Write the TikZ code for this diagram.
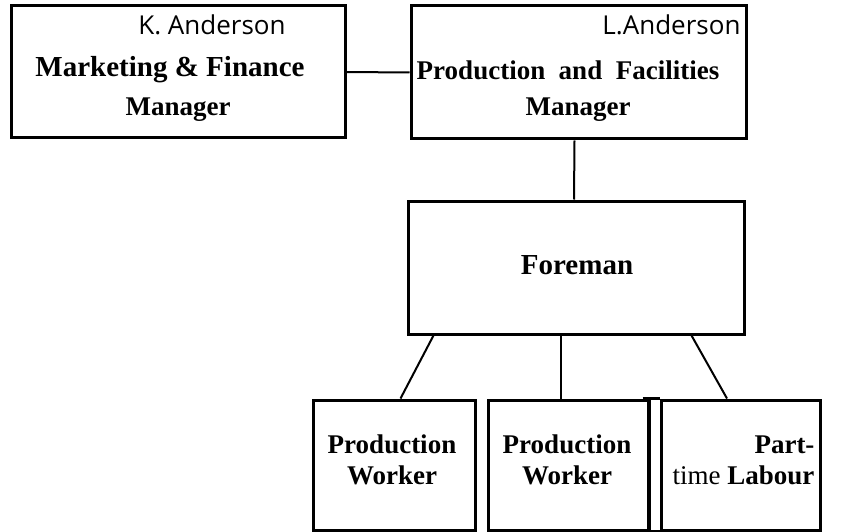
\documentclass[tikz,border=0pt]{standalone}
\usepackage{fontspec}
\setmainfont{Liberation Serif}
\setsansfont{Open Sans}

\begin{document}
\begin{tikzpicture}[x=1pt,y=-1pt,
    box/.style={draw, line width=3pt, rectangle, inner sep=0pt},
    link/.style={line width=2pt},
    roletext/.style={font=\fontsize{27}{31}\selectfont\bfseries},
    persontext/.style={font=\fontsize{26}{30}\selectfont\sffamily}]
    \useasboundingbox (0,0) rectangle (846,532);

    % Managers
    \node[box, minimum width=334pt, minimum height=132pt] (ka) at (178,72) {};
    \node[persontext] (kaname) at (212,25) {K. Anderson};
    \node[roletext, font=\fontsize{29}{33}\selectfont\bfseries] (katitle) at (170,70) {Marketing \& Finance};
    \node[roletext] (kamgr) at (178,110) {Manager};

    \node[box, minimum width=335pt, minimum height=133pt] (la) at (578.5,72.5) {};
    \node[persontext, anchor=east] (laname) at (744,25) {L.Anderson};
    \node[roletext] (latitle) at (568,70) {Production\ \ and\ \ Facilities};
    \node[roletext] (lamgr) at (578,110) {Manager};

    % Foreman
    \node[box, minimum width=336pt, minimum height=133pt] (fm) at (576,267.5) {};
    \node[roletext, font=\fontsize{29}{33}\selectfont\bfseries] (fmtitle) at (577,265) {Foreman};

    % Workers
    \node[box, minimum width=162pt, minimum height=130pt] (pw1) at (394,465) {};
    \node[roletext, align=center] (pw1text) at (392,460) {Production\\Worker};

    \node[box, minimum width=160pt, minimum height=130pt] (pw2) at (568,465) {};
    \node[roletext, align=center] (pw2text) at (567,460) {Production\\Worker};

    \node[box, minimum width=159pt, minimum height=130pt] (pt) at (740.5,465) {};
    \coordinate (ptleft) at (pw2.north east);
    \draw[line width=3pt] (ptleft) -- (ptleft |- pt.south) -- (pt.south west);
    \draw[line width=3pt] ([xshift=-7pt]ptleft) -- (pt.north west);
    \node[roletext, align=right, anchor=east] (pttext) at (818,460)
        {Part-\\\mdseries time \bfseries Labour};

    % Lines between boxes
    \draw[link] (ka.east) -- (la.west);
    \draw[link] ([xshift=-4pt]la.south) -- ([xshift=-2pt]fm.north);
    \draw[link] ([xshift=27pt]fm.south west) -- ([xshift=89pt]pw1.north west);
    \draw[link] ([xshift=-15pt]fm.south) -- ([xshift=-7pt]pw2.north);
    \draw[link] ([xshift=-54pt]fm.south east) -- ([xshift=-13.5pt]pt.north);
\end{tikzpicture}
\end{document}
